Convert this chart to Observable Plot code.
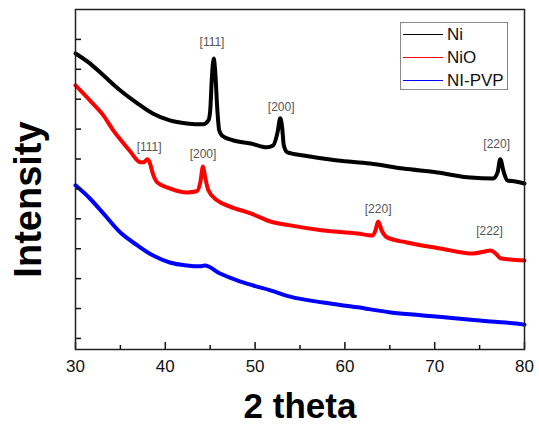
<!DOCTYPE html>
<html><head><meta charset="utf-8">
<script src="https://cdn.jsdelivr.net/npm/d3@7"></script>
<script src="https://cdn.jsdelivr.net/npm/@observablehq/plot@0.6"></script>
<style>
body{margin:0;background:#fff;font-family:"Liberation Sans",Arial,sans-serif}
#wrap{position:relative;width:539px;height:425px}
#legend{position:absolute;left:400px;top:22px;width:106px;height:66px;border:1px solid #888;background:#fff}
.row{position:absolute;left:0;height:23px;display:flex;align-items:center}
.sw{width:40px;height:1.5px;margin-left:2px;margin-right:4px}
.lab{font-size:17px;color:#111;line-height:23px}
</style></head><body><div id="wrap"><div id="legend"></div></div>
<script>
const seriesNames = ["Ni", "NiO", "NI-PVP"];
const seriesColors = ["#000000", "#ff0000", "#0000ff"];

const niX = [30.0,31.6,33.1,35.0,36.9,38.6,40.5,42.4,44.2,44.8,45.0,45.2,45.4,45.55,45.8,46.0,46.3,47.6,49.5,51.3,52.0,52.5,52.8,53.0,53.2,53.6,55.4,59.2,62.8,66.5,70.3,74.0,76.5,77.0,77.3,77.7,78.1,79.0,80.0];
const niY = [953,920,880,829,786,752,729,719,716,729,762,879,936,896,762,696,679,662,652,639,645,689,736,709,645,622,612,595,585,568,555,538,535,555,599,555,528,525,518];

const nioX = [30.0,31.6,33.1,34.2,35.0,36.1,37.2,37.6,38.0,38.3,38.6,39.1,40.5,42.4,43.5,43.9,44.2,44.4,44.8,45.8,47.2,49.5,51.7,53.9,57.6,61.4,63.1,63.4,63.7,64.1,64.7,66.9,70.6,74.3,75.6,76.2,76.9,77.3,78.4,80.0];
const nioY = [846,796,746,696,665,625,589,589,599,585,552,522,502,488,492,522,575,545,495,461,441,418,391,378,361,351,344,361,391,361,338,321,301,284,291,294,281,268,264,261];

const pvpX = [30.0,31.6,33.1,35.0,36.9,38.6,40.5,42.4,43.9,44.4,46.1,48.0,49.8,51.7,53.9,57.6,61.4,65.1,68.7,72.5,76.2,79.8,80.0];
const pvpY = [512,468,418,354,311,278,254,244,241,244,217,194,177,161,140,120,104,87,77,67,57,47,46];

const peakSeries = ["Ni", "Ni", "Ni", "NiO", "NiO", "NiO", "NiO"];
const peakText = ["[111]", "[200]", "[220]", "[111]", "[200]", "[220]", "[222]"];
const peakX = [45.2, 52.9, 76.9, 38.2, 44.2, 63.7, 76.1];
const peakY = [990, 772, 649, 639, 615, 431, 358];

const xMajor = [30, 40, 50, 60, 70, 80];
const xMinor = [35, 45, 55, 65, 75];
const yTicks = [0, 100, 200, 300, 400, 500, 600, 700, 800, 900, 1000];
const xLabel = "2 theta";
const yLabel = "Intensity";

const rows = [];
[[niX, niY], [nioX, nioY], [pvpX, pvpY]].forEach(([xs, ys], i) => {
  xs.forEach((x, j) => rows.push({series: seriesNames[i], x, y: ys[j]}));
});
const peaks = peakText.map((t, i) => ({series: peakSeries[i], text: t, x: peakX[i], y: peakY[i]}));

const chart = Plot.plot({
  width: 539, height: 425,
  marginLeft: 75, marginRight: 15, marginTop: 9, marginBottom: 76,
  x: {domain: [30, 80]},
  y: {domain: [-37, 1100]},
  color: {domain: seriesNames, range: seriesColors},
  style: {fontFamily: "Liberation Sans, Arial, sans-serif", background: "white", color: "#111", overflow: "visible"},
  marks: [
    Plot.line(rows, {x: "x", y: "y", z: "series", stroke: "series", strokeWidth: 4, curve: "monotone-x", strokeLinejoin: "round"}),
    Plot.text(peaks, {x: "x", y: "y", text: "text", fill: "#555", fontSize: 12}),
    Plot.axisX({ticks: xMajor, tickSize: -7, tickPadding: 17.5, fontSize: 17, label: null, strokeWidth: 1.5, fill: "#111"}),
    Plot.axisX({ticks: xMinor, tickSize: -4, tickFormat: () => "", label: null, strokeWidth: 1.5}),
    Plot.axisY({ticks: yTicks, tickSize: -6, tickFormat: () => "", label: null, strokeWidth: 1.5}),
    Plot.frame({stroke: "#222", strokeWidth: 1.5}),
    Plot.text([xLabel], {frameAnchor: "bottom", lineAnchor: "middle", textAnchor: "middle", dy: 57, fontSize: 35, fontWeight: "bold", fill: "#000"}),
    Plot.text([yLabel], {frameAnchor: "left", lineAnchor: "middle", textAnchor: "middle", rotate: -90, dx: -47, dy: 20, fontSize: 38, fontWeight: "bold", fill: "#000"})
  ]
});
const wrap = document.getElementById("wrap");
wrap.insertBefore(chart, wrap.firstChild);

const legend = document.getElementById("legend");
seriesNames.forEach((name, i) => {
  const row = document.createElement("div");
  row.className = "row";
  row.style.top = (i * 23) + "px";
  const sw = document.createElement("div");
  sw.className = "sw";
  sw.style.background = seriesColors[i];
  const lab = document.createElement("span");
  lab.className = "lab";
  lab.textContent = name;
  row.appendChild(sw); row.appendChild(lab);
  legend.appendChild(row);
});
</script></body></html>
